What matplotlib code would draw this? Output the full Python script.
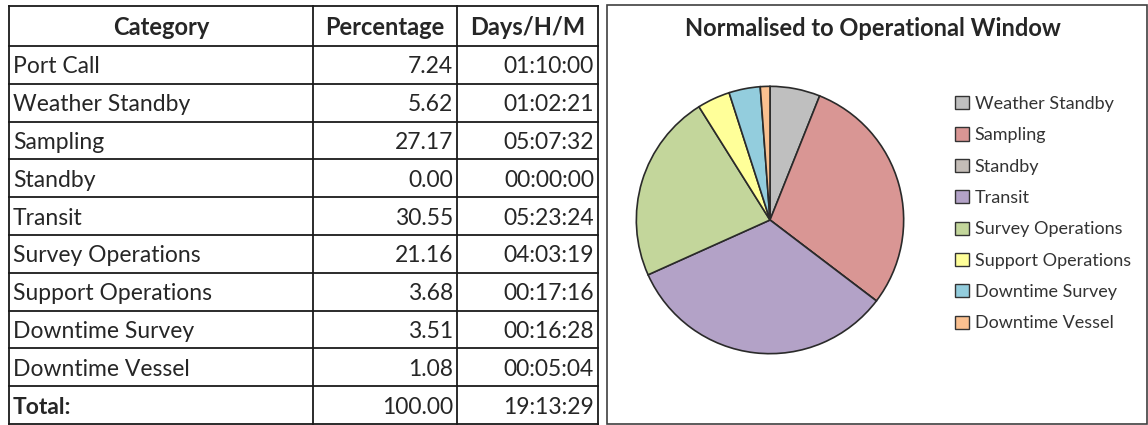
import matplotlib.pyplot as plt
from matplotlib.patches import Rectangle, Patch

categories = ['Port Call', 'Weather Standby', 'Sampling', 'Standby', 'Transit',
              'Survey Operations', 'Support Operations', 'Downtime Survey', 'Downtime Vessel']
percentages = [7.24, 5.62, 27.17, 0.00, 30.55, 21.16, 3.68, 3.51, 1.08]
durations = ['01:10:00', '01:02:21', '05:07:32', '00:00:00', '05:23:24',
             '04:03:19', '00:17:16', '00:16:28', '00:05:04']
total_pct = 100.00
total_dur = '19:13:29'
headers = ['Category', 'Percentage', 'Days/H/M']

# pie excludes port call (normalised to operational window)
pie_labels = categories[1:]
pie_values = percentages[1:]
pie_colors = ['#bfbfbf', '#d99694', '#c4bdb7', '#b3a2c7', '#c3d69b', '#ffff99', '#93cddd', '#fac090']

W, H = 1148, 425
fig = plt.figure(figsize=(W / 100, H / 100), dpi=100)
plt.rcParams['font.family'] = ['Lato', 'DejaVu Sans']

# table drawn in pixel coords
tab = fig.add_axes([0, 0, 1, 1])
tab.set_xlim(0, W)
tab.set_ylim(H, 0)
tab.axis('off')

cols = [9, 313, 457, 598]
top, head_bot, bot = 6, 46, 424
nrows = len(categories) + 1
rh = (bot - head_bot) / nrows
rows = [top, head_bot] + [head_bot + rh * (i + 1) for i in range(nrows)]

lc = '#1a1a1a'
for y in rows:
    tab.plot([cols[0], cols[-1]], [y, y], color=lc, lw=1.3)
for x in cols:
    tab.plot([x, x], [top, bot], color=lc, lw=1.3)

fs = 16.5
tc = '#262626'
for j, h in enumerate(headers):
    tab.text((cols[j] + cols[j + 1]) / 2, (rows[0] + rows[1]) / 2 + 1, h, ha='center', va='center',
             fontsize=17, fontweight='bold', color=tc)

for i, (c, p, d) in enumerate(zip(categories, percentages, durations)):
    yc = (rows[i + 1] + rows[i + 2]) / 2 + 2
    tab.text(cols[0] + 4, yc, c, ha='left', va='center', fontsize=fs, color=tc)
    tab.text(cols[2] - 4, yc, f'{p:.2f}', ha='right', va='center', fontsize=fs, color=tc)
    tab.text(cols[3] - 4, yc, d, ha='right', va='center', fontsize=fs, color=tc)

yc = (rows[-2] + rows[-1]) / 2 + 2
tab.text(cols[0] + 4, yc, 'Total:', ha='left', va='center', fontsize=fs, fontweight='bold', color=tc)
tab.text(cols[2] - 4, yc, f'{total_pct:.2f}', ha='right', va='center', fontsize=fs, color=tc)
tab.text(cols[3] - 4, yc, total_dur, ha='right', va='center', fontsize=fs, color=tc)

# chart box
tab.add_patch(Rectangle((607, 5), W - 1 - 607, 419, fill=False, edgecolor='#404040', lw=1.2))
tab.text(873, 28, 'Normalised to Operational Window', ha='center', va='center',
         fontsize=17, fontweight='bold', color=tc)

# pie
cx, cy, r = 770, 220, 135
pax = fig.add_axes([(cx - r) / W, (H - cy - r) / H, 2 * r / W, 2 * r / H])
pax.pie(pie_values, colors=pie_colors, startangle=90, counterclock=False,
        wedgeprops=dict(edgecolor='#2a2a2a', linewidth=1.2))
pax.set_aspect('auto')
pax.set_xlim(-1.01, 1.01)
pax.set_ylim(-1.01, 1.01)

handles = [Patch(facecolor=c, edgecolor='#333333', lw=1) for c in pie_colors]
fig.legend(handles, pie_labels, loc='upper left', bbox_to_anchor=(946 / W, 1 - 87 / H),
           frameon=False, fontsize=13, handlelength=0.75, handleheight=0.75,
           handletextpad=0.35, labelspacing=0.85, labelcolor='#333333', borderpad=0)

fig.savefig('out.png', dpi=100)
